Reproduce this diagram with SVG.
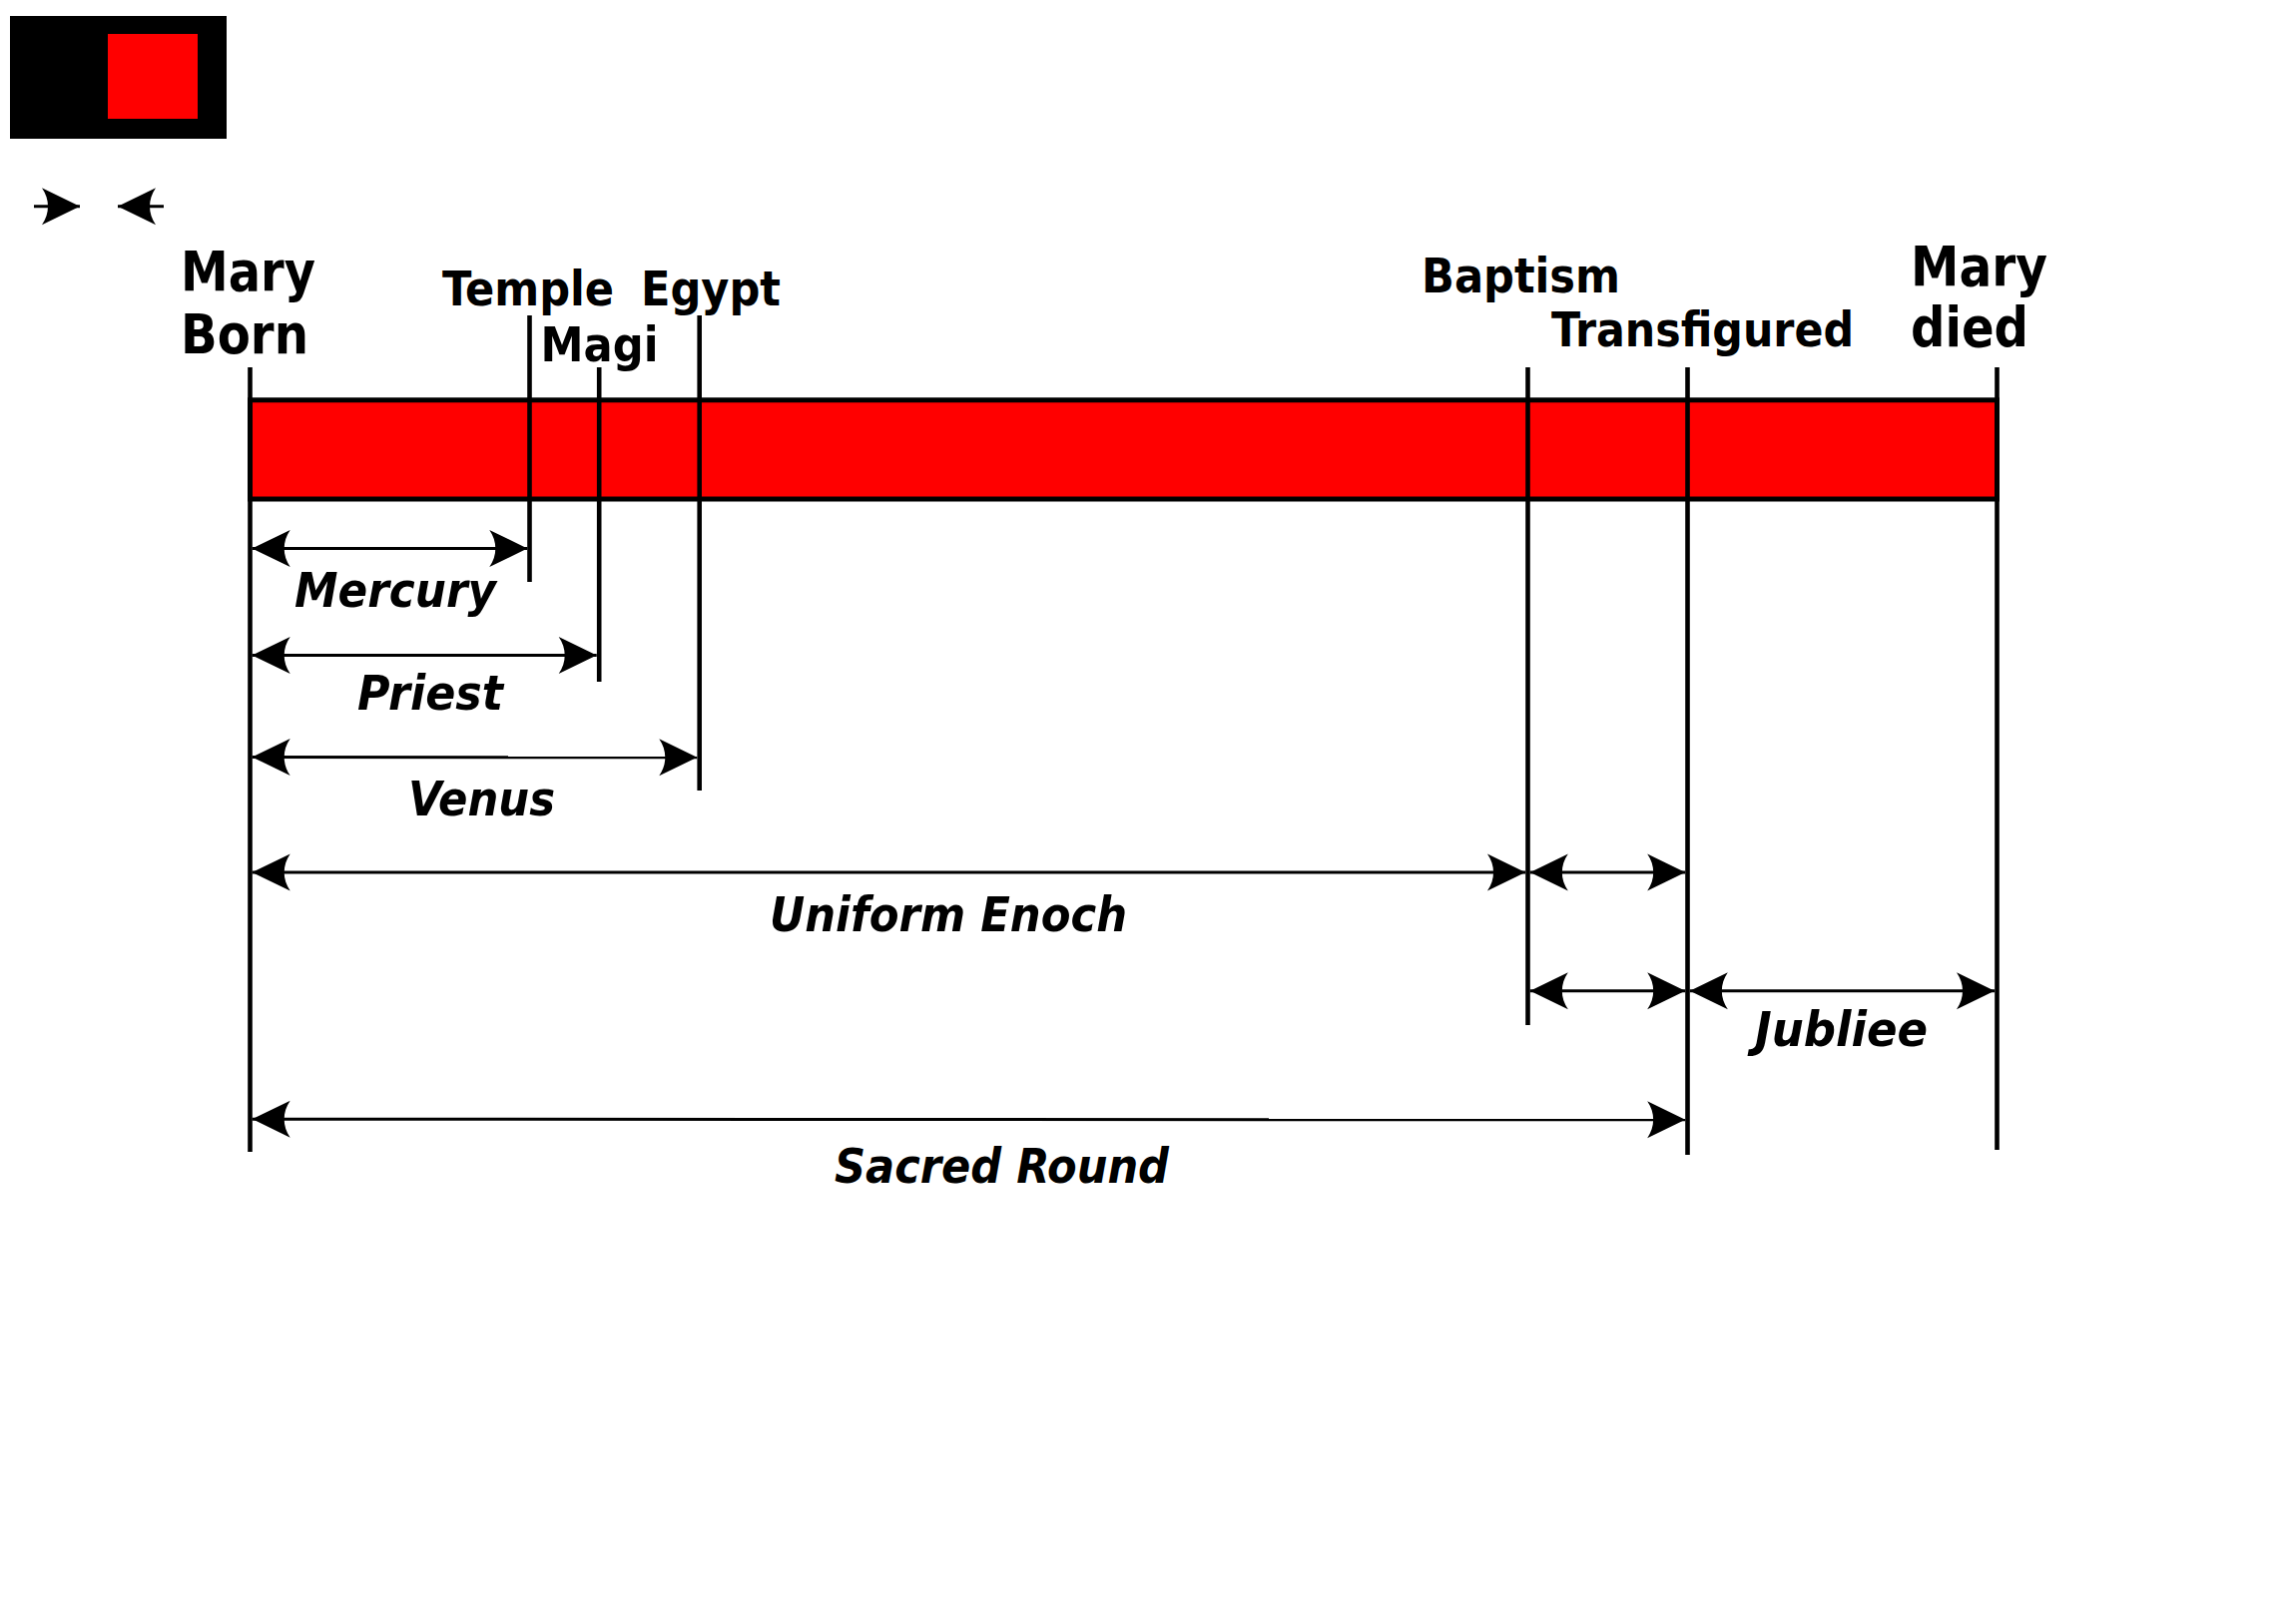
<svg xmlns="http://www.w3.org/2000/svg" width="2300" height="1601" viewBox="0 0 2300 1601">
<style>
  .lbl { font-family: "DejaVu Sans Condensed", "DejaVu Sans", sans-serif; font-stretch: condensed; font-weight: bold; fill: #000; }
  .big { font-size: 55px; }
  .mid { font-size: 48px; }
  .it { font-style: oblique; font-size: 48px; }
  .tick { stroke: #000; stroke-width: 4.6; fill: none; }
  .dim { stroke: #000; stroke-width: 3; fill: none; marker-start: url(#ah); marker-end: url(#ah); }
</style>
<defs>
  <marker id="ah" markerUnits="userSpaceOnUse" viewBox="-40 -20 42 40" refX="0" refY="0" markerWidth="42" markerHeight="40" orient="auto-start-reverse" overflow="visible">
    <path d="M0,0 L-38,-18.5 C-30,-7 -30,7 -38,18.5 Z" fill="#000"/>
  </marker>
  <marker id="ahe" markerUnits="userSpaceOnUse" viewBox="-40 -20 42 40" refX="0" refY="0" markerWidth="42" markerHeight="40" orient="auto" overflow="visible">
    <path d="M0,0 L-38,-18.5 C-30,-7 -30,7 -38,18.5 Z" fill="#000"/>
  </marker>
</defs>
<rect width="2300" height="1601" fill="#fff"/>

<g id="legend">
  <rect x="10" y="16" width="217" height="123" fill="#000"/>
  <rect x="108" y="34" width="90" height="85" fill="#f00"/>
  <line x1="34" y1="206.7" x2="80" y2="206.7" stroke="#000" stroke-width="3" marker-end="url(#ahe)"/>
  <line x1="164" y1="206.7" x2="118" y2="206.7" stroke="#000" stroke-width="3" marker-end="url(#ahe)"/>
</g>

<g id="bar">
  <rect x="250.5" y="400.8" width="1750" height="99.2" fill="#f00" stroke="#000" stroke-width="5"/>
</g>

<g id="ticks">
  <line class="tick" x1="250.5" y1="368" x2="250.5" y2="1154"/>
  <line class="tick" x1="530.5" y1="316" x2="530.5" y2="583"/>
  <line class="tick" x1="600.2" y1="368" x2="600.2" y2="683"/>
  <line class="tick" x1="700.7" y1="316" x2="700.7" y2="792"/>
  <line class="tick" x1="1530.5" y1="368" x2="1530.5" y2="1027"/>
  <line class="tick" x1="1690.5" y1="368" x2="1690.5" y2="1157"/>
  <line class="tick" x1="2000.5" y1="368" x2="2000.5" y2="1152"/>
</g>

<g id="node-mary-born">
  <text class="lbl big" x="181" y="291" textLength="135" lengthAdjust="spacingAndGlyphs">Mary</text>
  <text class="lbl big" x="181" y="354" textLength="128" lengthAdjust="spacingAndGlyphs">Born</text>
</g>
<g id="node-temple"><text class="lbl mid" x="443" y="306" textLength="172" lengthAdjust="spacingAndGlyphs">Temple</text></g>
<g id="node-egypt"><text class="lbl mid" x="642" y="306" textLength="140" lengthAdjust="spacingAndGlyphs">Egypt</text></g>
<g id="node-magi"><text class="lbl mid" x="541.5" y="362" textLength="118" lengthAdjust="spacingAndGlyphs">Magi</text></g>
<g id="node-baptism"><text class="lbl mid" x="1424" y="293" textLength="199" lengthAdjust="spacingAndGlyphs">Baptism</text></g>
<g id="node-transfigured"><text class="lbl mid" x="1554" y="347" textLength="303" lengthAdjust="spacingAndGlyphs">Transfigured</text></g>
<g id="node-mary-died">
  <text class="lbl big" x="1914" y="286" textLength="137" lengthAdjust="spacingAndGlyphs">Mary</text>
  <text class="lbl big" x="1914" y="347" textLength="118" lengthAdjust="spacingAndGlyphs">died</text>
</g>

<g id="connectors">
  <line class="dim" x1="252.7" y1="549.5" x2="528.3" y2="549.5"/>
  <line class="dim" x1="252.7" y1="656.5" x2="597.7" y2="656.5"/>
  <line class="dim" x1="252.7" y1="758.5" x2="698.3" y2="758.8"/>
  <line class="dim" x1="252.7" y1="874" x2="1528" y2="874"/>
  <line class="dim" x1="1532.8" y1="874" x2="1688.2" y2="874"/>
  <line class="dim" x1="1532.8" y1="992.7" x2="1688.2" y2="992.7"/>
  <line class="dim" x1="1692.8" y1="992.7" x2="1998" y2="992.7"/>
  <line class="dim" x1="252.7" y1="1121.2" x2="1688.2" y2="1121.8"/>
</g>

<g id="labels">
  <text class="lbl it" x="295" y="608" textLength="202" lengthAdjust="spacingAndGlyphs">Mercury</text>
  <text class="lbl it" x="358" y="711" textLength="146" lengthAdjust="spacingAndGlyphs">Priest</text>
  <text class="lbl it" x="409" y="817" textLength="147" lengthAdjust="spacingAndGlyphs">Venus</text>
  <text class="lbl it" x="771" y="932.7" textLength="358" lengthAdjust="spacingAndGlyphs">Uniform Enoch</text>
  <text class="lbl it" x="1758" y="1048" textLength="173" lengthAdjust="spacingAndGlyphs">Jubliee</text>
  <text class="lbl it" x="836" y="1185" textLength="335" lengthAdjust="spacingAndGlyphs">Sacred Round</text>
</g>
</svg>
